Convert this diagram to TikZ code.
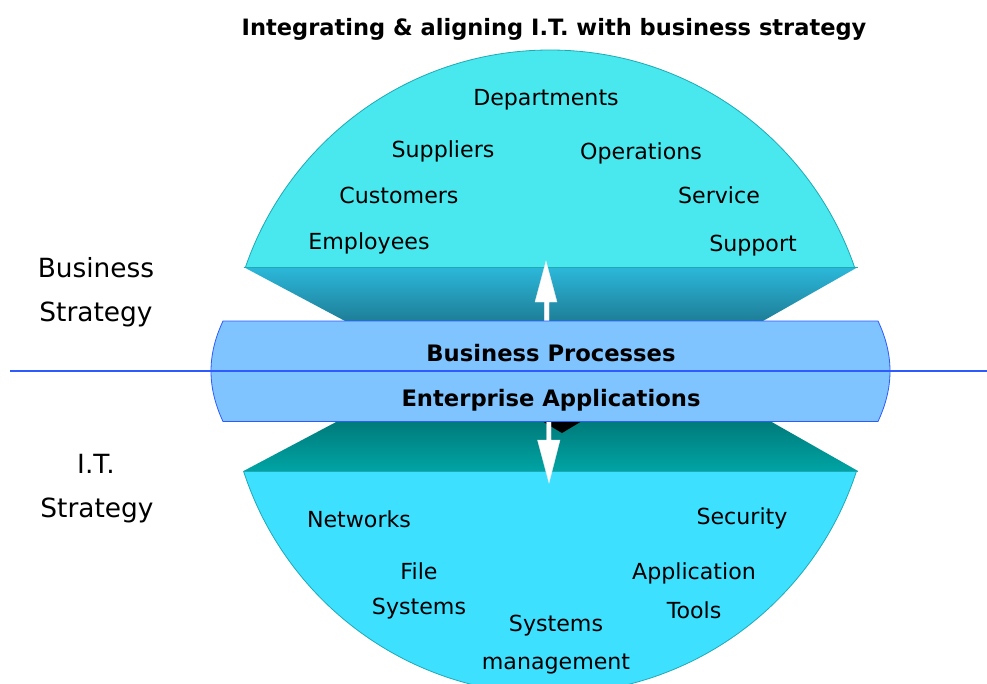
\documentclass[tikz,border=0pt]{standalone}
\usepackage{fontspec}
\setmainfont{DejaVu Sans}
\definecolor{domeTop}{HTML}{48E8EE}
\definecolor{domeBot}{HTML}{3EE0FF}
\definecolor{trapTopA}{HTML}{2CB8DA}
\definecolor{trapTopB}{HTML}{1E7E98}
\definecolor{trapBotA}{HTML}{007A7A}
\definecolor{trapBotB}{HTML}{00A4A4}
\definecolor{bandFill}{HTML}{80C4FF}
\definecolor{bandEdge}{HTML}{2D5BFF}
\definecolor{domeEdge}{HTML}{1FA9B4}
\begin{document}
\begin{tikzpicture}[x=0.75pt,y=-0.75pt,
  lbl/.style={font=\fontsize{16.6}{18}\selectfont, inner sep=0pt, yshift=-2.2pt},
  side/.style={font=\fontsize{19.8}{21}\selectfont, inner sep=0pt, yshift=-0.8pt},
  boldlbl/.style={font=\fontsize{17}{19}\selectfont\bfseries, inner sep=0pt, yshift=-0.8pt},
  titlelbl/.style={font=\fontsize{16.9}{19}\selectfont\bfseries, inner sep=0pt, yshift=-1.8pt},
  fatarrow/.style={fill=white, draw=white!85!gray, line width=0.3pt}]
\useasboundingbox (0,0) rectangle (987,683);
\clip (0,0) rectangle (987,683);
% domes
\begin{scope}
  \clip (550,372) circle [radius=322];
  \fill[domeTop] (200,30) rectangle (900,267);
  \fill[domeBot] (200,471) rectangle (900,720);
\end{scope}
\begin{scope}
  \clip (200,0) rectangle (900,267);
  \draw[domeEdge, line width=0.6pt] (550,372) circle [radius=322];
\end{scope}
\begin{scope}
  \clip (200,471) rectangle (900,720);
  \draw[domeEdge, line width=0.6pt] (550,372) circle [radius=322];
\end{scope}
% trapezoids
\shade[top color=trapTopA, bottom color=trapTopB] (243.5,267) -- (858,267) -- (763,321) -- (345,321) -- cycle;
\shade[top color=trapBotA, bottom color=trapBotB] (338,421) -- (770,421) -- (858,471) -- (243.5,471) -- cycle;
\draw[domeEdge, line width=0.5pt] (243.5,267) -- (858,267);
\draw[domeEdge, line width=0.5pt] (243.5,471) -- (858,471);
% dark shadow under band
\fill[black] (542,421) -- (582,421) -- (562,433) -- cycle;
% arrows
\fill[fatarrow] (544.3,321) -- (544.3,302) -- (535,302) -- (546,261) -- (557,302) -- (549,302) -- (549,321) -- cycle;
\fill[fatarrow] (546.7,421) -- (546.7,440) -- (537.5,440) -- (549,483) -- (560,440) -- (551,440) -- (551,421) -- cycle;
% band
\path[fill=bandFill, draw=bandEdge, line width=0.6pt] (223,321) -- (878,321) .. controls (894,355) and (894,387) .. (878,421.5) -- (223,421.5) .. controls (207,387) and (207,355) .. (223,321) -- cycle;
\draw[bandEdge, line width=0.8pt] (10,371) -- (987,371);
% texts
\node[titlelbl] (title) at (554,27) {Integrating \& aligning I.T. with business strategy};
\node[boldlbl] (bp) at (551,352) {Business Processes};
\node[boldlbl] (ea) at (551,399) {Enterprise Applications};
\node[lbl] (dep) at (546,97) {Departments};
\node[lbl] (sup) at (443,148) {Suppliers};
\node[lbl] (ops) at (641,150) {Operations};
\node[lbl] (cus) at (399,193) {Customers};
\node[lbl] (ser) at (719,192) {Service};
\node[lbl] (emp) at (369,240) {Employees};
\node[lbl] (spt) at (753,243) {Support};
\node[side] (bs1) at (96,267) {Business};
\node[side] (bs2) at (96,313) {Strategy};
\node[side] (it1) at (96,463) {I.T.};
\node[side] (it2) at (97,509) {Strategy};
\node[lbl] (net) at (359,516) {Networks};
\node[lbl] (sec) at (742,515) {Security};
\node[lbl] (fi1) at (419,568) {File};
\node[lbl] (fi2) at (419,606) {Systems};
\node[lbl] (ap1) at (694,570) {Application};
\node[lbl] (ap2) at (694,607) {Tools};
\node[lbl] (sm1) at (556,623) {Systems};
\node[lbl] (sm2) at (556,661) {management};
\end{tikzpicture}
\end{document}
